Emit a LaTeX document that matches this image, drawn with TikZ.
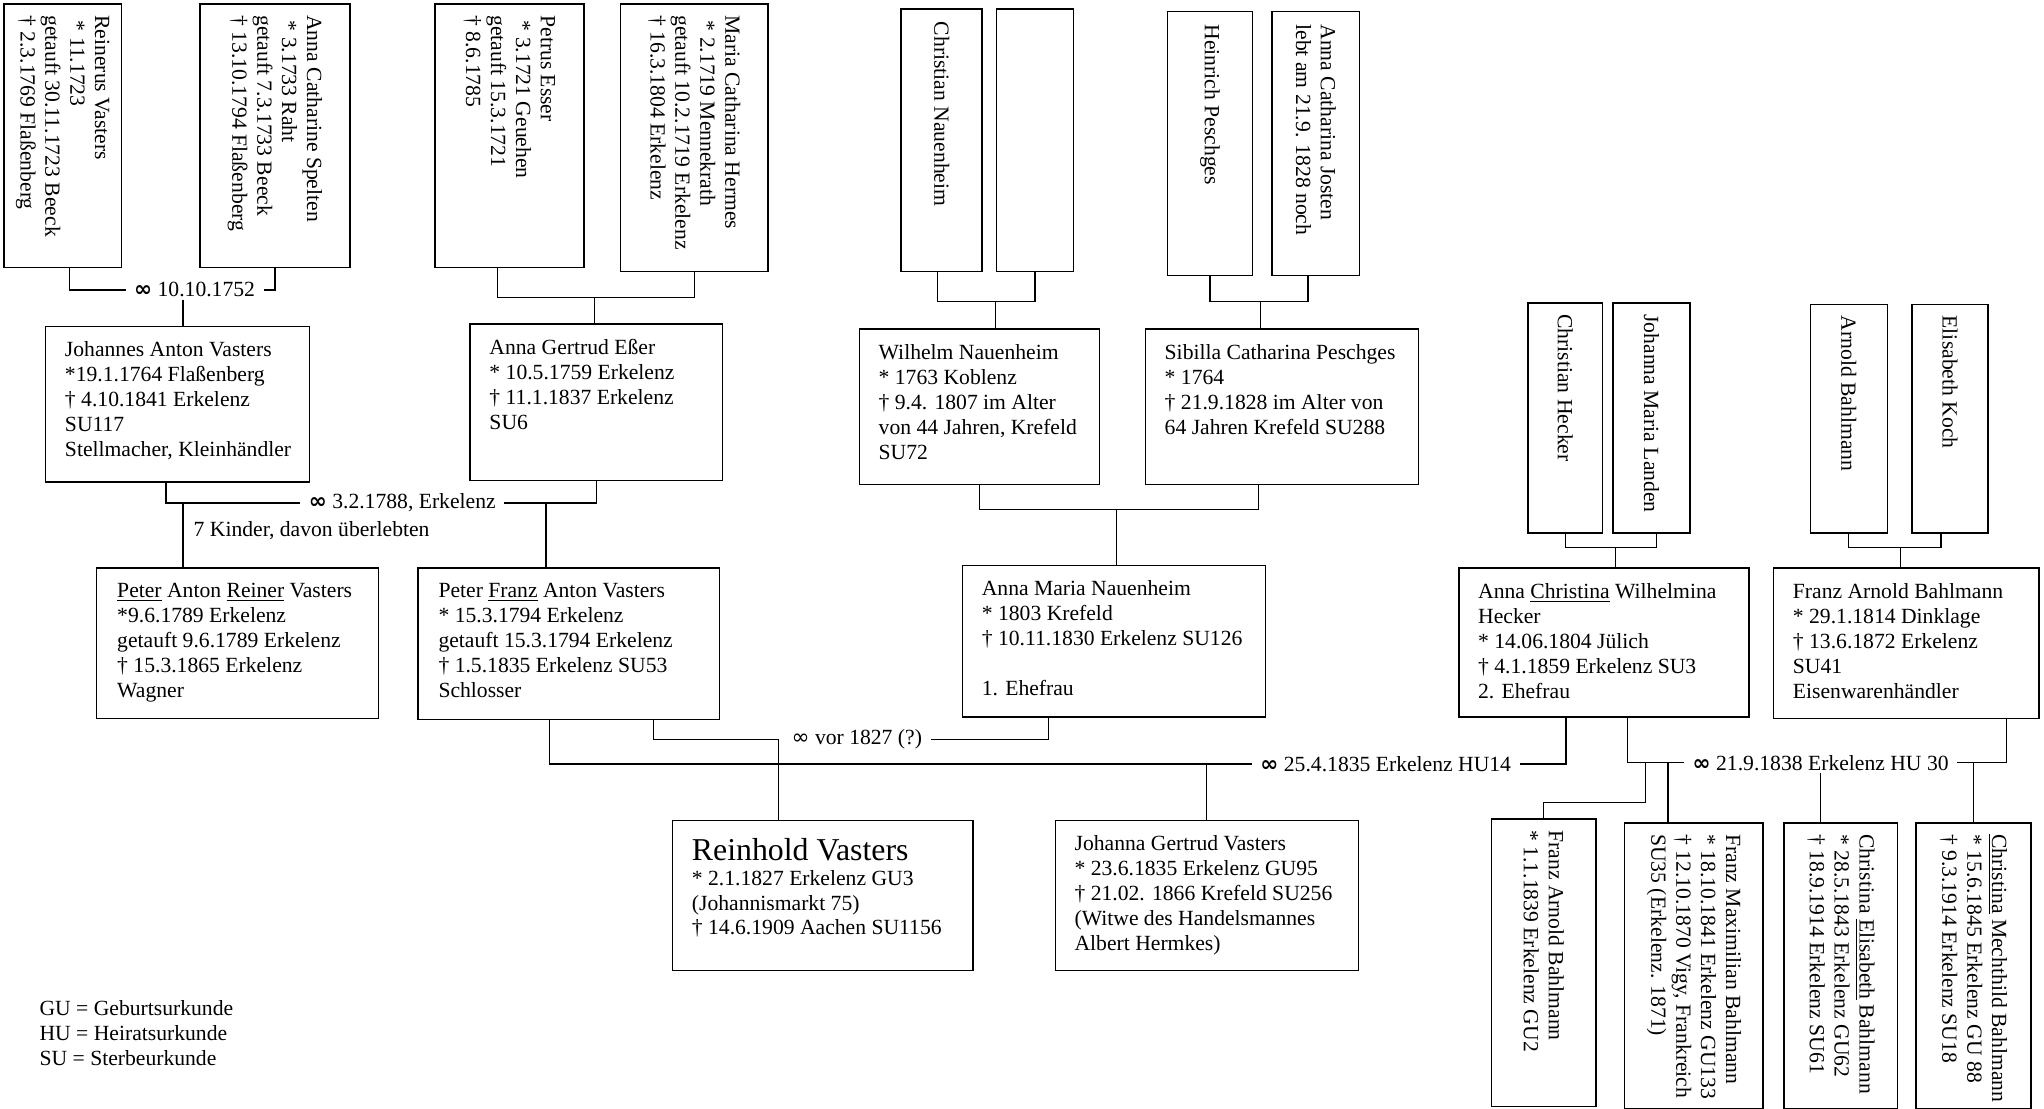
\documentclass[tikz,border=0pt]{standalone}
\usepackage{fontspec}
\setmainfont{Liberation Serif}
\newfontfamily\symfont{DejaVu Sans}
\usetikzlibrary{calc,fit}
\begin{document}
\begin{tikzpicture}[x=0.64pt, y=-0.64pt, font=\fontsize{10.6}{12.2}\selectfont,
  box/.style={draw, line width=0.7pt, inner sep=0pt},
  info/.style={anchor=north west, align=left, inner sep=0pt},
  vinfo/.style={rotate=-90, anchor=west, align=left, inner sep=0pt},
  link/.style={line width=0.65pt},
  wed/.style={fill=white, inner xsep=4pt, inner ysep=1pt}]
\useasboundingbox (0,0) rectangle (1565,849);
\node[box, fit={(3,3) (93,205)}] (rv) {};
\node[box, fit={(153,3) (268,205)}] (acs) {};
\node[box, fit={(333,3) (447,205)}] (pe) {};
\node[box, fit={(475,3) (588,208)}] (mch) {};
\node[box, fit={(690,7) (752,208)}] (cn) {};
\node[box, fit={(763,7) (822,208)}] (unk) {};
\node[box, fit={(894,9) (959,211)}] (hp) {};
\node[box, fit={(974,9) (1041,211)}] (acj) {};
\node[box, fit={(1170,232) (1227,408)}] (ch) {};
\node[box, fit={(1235,232) (1294,408)}] (jml) {};
\node[box, fit={(1386,233) (1445,408)}] (ab) {};
\node[box, fit={(1464,233) (1522,408)}] (ek) {};
\node[box, fit={(1142,627) (1222,847)}] (fab) {};
\node[box, fit={(1244,630) (1350,849)}] (fmb) {};
\node[box, fit={(1366,630) (1453,849)}] (ceb) {};
\node[box, fit={(1467,630) (1555,849)}] (cmb) {};
\node[vinfo] (rv-t) at ($(rv.north)+(0,9)$) {Reinerus Vasters\\\ * 11.1723\\getauft 30.11.1723 Beeck\\† 2.3.1769 Flaßenberg};
\node[vinfo] (acs-t) at ($(acs.north)+(0,9)$) {Anna Catharine Spelten\\\ * 3.1733 Raht\\getauft 7.3.1733 Beeck\\† 13.10.1794 Flaßenberg};
\node[vinfo] (pe-t) at ($(pe.north)+(0,9)$) {Petrus Esser\\\ * 3.1721 Geuehen\\getauft 15.3.1721\\† 8.6.1785};
\node[vinfo] (mch-t) at ($(mch.north)+(0,9)$) {Maria Catharina Hermes\\\ * 2.1719 Mennekrath\\getauft 10.2.1719 Erkelenz\\† 16.3.1804 Erkelenz};
\node[vinfo] (cn-t) at ($(cn.north)+(0,10)$) {Christian Nauenheim};
\node[vinfo] (hp-t) at ($(hp.north)+(0,10)$) {Heinrich Peschges};
\node[vinfo] (acj-t) at ($(acj.north)+(0,10)$) {Anna Catharina Josten\\lebt am 21.9. 1828 noch};
\node[vinfo] (ch-t) at ($(ch.north)+(0,9)$) {Christian Hecker};
\node[vinfo] (jml-t) at ($(jml.north)+(0,9)$) {Johanna Maria Landen};
\node[vinfo] (ab-t) at ($(ab.north)+(0,9)$) {Arnold Bahlmann};
\node[vinfo] (ek-t) at ($(ek.north)+(0,9)$) {Elisabeth Koch};
\node[vinfo] (fab-t) at ($(fab.north)+(0,9)$) {Franz Arnold Bahlmann\\* 1.1.1839 Erkelenz GU2};
\node[vinfo] (fmb-t) at ($(fmb.north)+(0,9)$) {Franz Maximilian Bahlmann\\* 18.10.1841 Erkelenz GU133\\† 12.10.1870 Vigy, Frankreich\\SU35 (Erkelenz. 1871)};
\node[vinfo] (ceb-t) at ($(ceb.north)+(0,9)$) {Christina \underline{Elisabeth} Bahlmann\\* 28.5.1843 Erkelenz GU62\\† 18.9.1914 Erkelenz SU61};
\node[vinfo] (cmb-t) at ($(cmb.north)+(0,9)$) {\underline{Christina} Mechthild Bahlmann\\* 15.6.1845 Erkelenz GU 88\\† 9.3.1914 Erkelenz SU18};
\node[box, fit={(35,250) (237,369)}] (jav) {};
\node[box, fit={(360,248) (553,368)}] (age) {};
\node[box, fit={(658,252) (842,371)}] (wn) {};
\node[box, fit={(877,252) (1086,371)}] (scp) {};
\node[box, fit={(74,435) (290,550)}] (par) {};
\node[box, fit={(320,435) (551,551)}] (pfa) {};
\node[box, fit={(737,433) (969,549)}] (amn) {};
\node[box, fit={(1117,435) (1339,549)}] (acw) {};
\node[box, fit={(1358,435) (1561,550)}] (fabv) {};
\node[box, fit={(515,628) (745,743)}] (rhv) {};
\node[box, fit={(808,628) (1040,743)}] (jgv) {};
\node[info] (jav-t) at ($(jav.north west)+(15,12)$) {Johannes Anton Vasters\\*19.1.1764 Flaßenberg\\† 4.10.1841 Erkelenz\\SU117\\Stellmacher, Kleinhändler};
\node[info] (age-t) at ($(age.north west)+(15,12)$) {Anna Gertrud Eßer\\* 10.5.1759 Erkelenz\\† 11.1.1837 Erkelenz\\SU6};
\node[info] (wn-t) at ($(wn.north west)+(15,12)$) {Wilhelm Nauenheim\\* 1763 Koblenz\\† 9.4. 1807 im Alter\\von 44 Jahren, Krefeld\\SU72};
\node[info] (scp-t) at ($(scp.north west)+(15,12)$) {Sibilla Catharina Peschges\\* 1764\\† 21.9.1828 im Alter von\\64 Jahren Krefeld SU288};
\node[info] (par-t) at ($(par.north west)+(16,12)$) {\underline{Peter} Anton \underline{Reiner} Vasters\\*9.6.1789 Erkelenz\\getauft 9.6.1789 Erkelenz\\† 15.3.1865 Erkelenz\\Wagner};
\node[info] (pfa-t) at ($(pfa.north west)+(16,12)$) {Peter \underline{Franz} Anton Vasters\\* 15.3.1794 Erkelenz\\getauft 15.3.1794 Erkelenz\\† 1.5.1835 Erkelenz SU53\\Schlosser};
\node[info] (amn-t) at ($(amn.north west)+(15,12)$) {Anna Maria Nauenheim\\* 1803 Krefeld\\† 10.11.1830 Erkelenz SU126\\[12.2pt]1. Ehefrau};
\node[info] (acw-t) at ($(acw.north west)+(15,12)$) {Anna \underline{Christina} Wilhelmina\\Hecker\\* 14.06.1804 Jülich\\† 4.1.1859 Erkelenz SU3\\2. Ehefrau};
\node[info] (fabv-t) at ($(fabv.north west)+(15,12)$) {Franz Arnold Bahlmann\\* 29.1.1814 Dinklage\\† 13.6.1872 Erkelenz\\SU41\\Eisenwarenhändler};
\node[info] (rhv-t) at ($(rhv.north west)+(15,14)$) {{\fontsize{15.6}{18}\selectfont Reinhold Vasters}\\* 2.1.1827 Erkelenz GU3\\(Johannismarkt 75)\\† 14.6.1909 Aachen SU1156};
\node[info] (jgv-t) at ($(jgv.north west)+(15,12)$) {Johanna Gertrud Vasters\\* 23.6.1835 Erkelenz GU95\\† 21.02. 1866 Krefeld SU256\\(Witwe des Handelsmannes\\Albert Hermkes)};
\node[wed] (m1) at (149,222) {{\symfont\bfseries ∞} 10.10.1752};
\node[wed] (m2) at (308,385) {{\symfont\bfseries ∞} 3.2.1788, Erkelenz};
\node[wed] (m3) at (656,566) {{\symfont ∞} vor 1827 (?)};
\node[wed] (m4) at (1061,585) {{\symfont\bfseries ∞} 25.4.1835 Erkelenz HU14};
\node[wed] (m5) at (1394,584) {{\symfont\bfseries ∞} 21.9.1838 Erkelenz HU 30};
\node[info, anchor=west] (kids) at (148,406) {7 Kinder, davon überlebten};
\node[info] (leg) at (30,766) {GU = Geburtsurkunde\\HU = Heiratsurkunde\\SU = Sterbeurkunde};
\coordinate (k0) at (140,222);
\coordinate (pm) at (455,228);
\coordinate (cu) at (762,231);
\coordinate (hj) at (965,231);
\coordinate (ws) at (855,390);
\coordinate (hl) at (1237,419);
\coordinate (ak) at (1455,419);
\coordinate (k1) at (140,385);
\coordinate (k2) at (418,385);
\coordinate (rj) at (596,566);
\coordinate (c1) at (1260,584);
\coordinate (c2) at (1277,584);
\draw[link] ($(rv.south)+(5,0)$) |- (m1.west);
\draw[link] (acs.south) |- (m1.east);
\draw[link] (k0 |- m1.south) -- (k0 |- jav.north);
\draw[link] ($(pe.south)+(-9,0)$) |- (pm) -| (mch.south);
\draw[link] (pm) -- (pm |- age.north);
\draw[link] ($(jav.south)+(-9,0)$) |- (m2.west);
\draw[link] (age.south) |- (m2.east);
\draw[link] (k1) -- (k1 |- par.north);
\draw[link] (k2) -- (k2 |- pfa.north);
\draw[link] ($(cn.south)+(-3,0)$) |- (cu) -| (unk.south);
\draw[link] (cu) -- (cu |- wn.north);
\draw[link] (hp.south) |- (hj) -| ($(acj.south)+(-6,0)$);
\draw[link] (hj) -- (hj |- scp.north);
\draw[link] (wn.south) |- (ws) -| ($(scp.south)+(-18,0)$);
\draw[link] (ws) -- (ws |- amn.north);
\draw[link] (ch.south) |- (hl) -| ($(jml.south)+(4,0)$);
\draw[link] (hl) -- (hl |- acw.north);
\draw[link] (ab.south) |- (ak) -| ($(ek.south)+(-7,0)$);
\draw[link] (ak) -- (ak |- fabv.north);
\draw[link] ($(pfa.south)+(65,0)$) |- (rj) -- (rj |- rhv.north);
\draw[link] ($(amn.south)+(-50,0)$) |- (m3.east);
\draw[link] ($(pfa.south)+(-15,0)$) |- (m4.west);
\draw[link] ($(acw.south)+(-29,0)$) |- (m4.east);
\draw[link] (jgv.north |- m4) -- (jgv.north);
\draw[link] ($(acw.south)+(18,0)$) |- (m5.west);
\draw[link] ($(fabv.south)+(77,0)$) |- (m5.east);
\draw[link] (c1) |- ($(fab.north)+(0,-12)$) -- (fab.north);
\draw[link] (c2) -- (c2 |- fmb.north);
\draw[link] (m5.south) -- (m5.south |- ceb.north);
\draw[link] (cmb.north |- m5) -- (cmb.north);
\end{tikzpicture}
\end{document}
